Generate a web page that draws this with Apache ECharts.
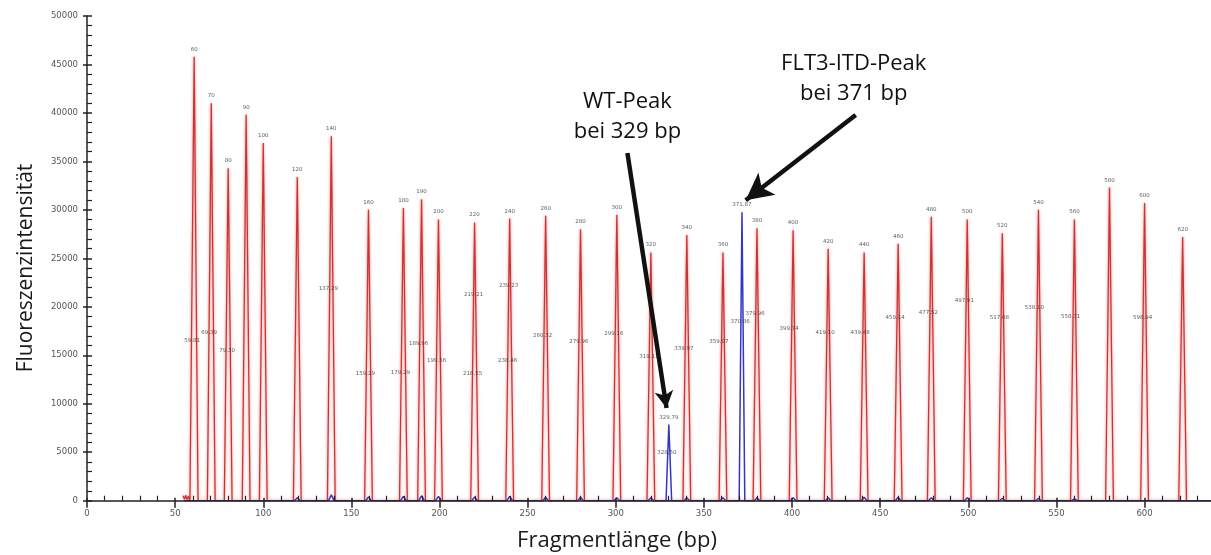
<!DOCTYPE html>
<html><head><meta charset="utf-8">
<script src="https://cdn.jsdelivr.net/npm/echarts@6/dist/echarts.min.js"></script>
<style>html,body{margin:0;padding:0;background:#fff}#c{width:1211px;height:555px}</style>
</head><body><div id="c"></div><script>
// Size standard (red) peaks: position (bp), height, nominal size label
const sizeStdX = [60.8,70.5,80.1,90.3,100,119.3,138.6,159.7,179.5,189.8,199.4,219.9,239.8,260.2,280,300.6,319.9,340.3,360.8,380.1,400.6,420.5,440.9,460.2,479,499.4,519.3,539.8,560.2,580.1,600,621.6];
const sizeStdY = [45800,41000,34300,39800,36900,33400,37600,30000,30200,31100,29000,28700,29100,29400,28000,29500,25600,27400,25600,28100,27900,26000,25600,26500,29300,29000,27600,30000,29000,32300,30700,27200];
const sizeStdLabel = ['60','70','80','90','100','120','140','160','180','190','200','220','240','260','280','300','320','340','360','380','400','420','440','460','480','500','520','540','560','580','600','620'];
// Start-of-trace noise of the red channel
const redNoiseX = [54.5,55.3,56.0,56.8,57.6,58.4];
const redNoiseY = [500,150,550,120,450,0];
// Sample (blue) channel: peaks and cross-talk bumps
const sampleX = [119.3,138.6,159.7,179.5,189.8,199.4,219.9,239.8,260.2,280,300.6,319.9,330.1,340.3,360.8,371.6,380.1,400.6,420.5,440.9,460.2,479,499.4,519.3,539.8,560.2];
const sampleY = [300,600,400,450,500,450,400,450,350,350,300,300,7850,300,300,29750,300,300,300,350,350,300,300,250,250,200];
const sampleLabel = ['','','','','','','','','','','','','329.79','','','371.87','','','','','','','','','',''];
// Called-size labels inside the peaks
const calledX = [59.7,69.3,79.5,137.0,158.0,177.8,188.1,198.3,219.3,218.8,239.2,238.6,258.5,279.0,298.9,318.8,338.6,358.5,370.5,379.0,398.3,418.8,438.6,458.5,477.3,497.7,517.6,537.5,558.0,598.9,329.0];
const calledY = [16500,17300,15500,21900,13100,13200,16200,14500,21300,13100,22200,14500,17000,16400,17200,14900,15700,16400,18500,19300,17800,17300,17300,18900,19400,20600,18900,19900,19000,18900,4950];
const calledText = ['59.81','69.39','79.30','137.29','159.29','179.29','189.96','199.56','219.21','218.55','239.23','238.46','260.32','279.96','299.16','319.11','339.97','359.07','370.86','379.96','399.74','419.10','439.48','459.14','477.52','497.91','517.68','538.10','558.71','598.94','328.50'];
// Annotations
const noteX = [306.6,435.0];
const noteY = [39580,43500];
const noteText = ['WT-Peak\nbei 329 bp','FLT3-ITD-Peak\nbei 371 bp'];
const arrowFromX = [306.6,436.1], arrowFromY = [35870,39790];
const arrowToX = [328.8,373.7], arrowToY = [9560,31000];
const arrowHead = [[14,17],[21,27]];

const HW_STD = 2.2, HW_SMP = 1.6;
const redData = redNoiseX.map((x,i)=>[x,redNoiseY[i]]);
sizeStdX.forEach((x,i)=>{ redData.push([x-HW_STD,0],[x,sizeStdY[i]],[x+HW_STD,0]); });
const blueData = [[55,0]];
sampleX.forEach((x,i)=>{ blueData.push([x-HW_SMP,0],[x,sampleY[i]],[x+HW_SMP,0]); });
blueData.push([638,0]);

const topLabels = sizeStdX.map((x,i)=>({value:[x,sizeStdY[i]],label:{formatter:sizeStdLabel[i]}}));
sampleX.forEach((x,i)=>{ if(sampleLabel[i]) topLabels.push({value:[x,sampleY[i]],label:{formatter:sampleLabel[i]}}); });
const calledData = calledX.map((x,i)=>({value:[x,calledY[i]],label:{formatter:calledText[i]}}));
const noteData = noteX.map((x,i)=>({value:[x,noteY[i]],label:{formatter:noteText[i]}}));
const arrowData = arrowFromX.map((x,i)=>[
  {coord:[x,arrowFromY[i]],symbol:'none'},
  {coord:[arrowToX[i],arrowToY[i]],symbol:'arrow',symbolSize:arrowHead[i]}
]);

const AX = '#222';
const tinyFont = {fontFamily:'DejaVu Sans',fontSize:5.5,color:'#333'};
const plain = v => String(v);
const chart = echarts.init(document.getElementById('c'),null,{renderer:'canvas'});
chart.setOption({
  animation:false,
  backgroundColor:'#fff',
  grid:{left:87,right:-21.7,top:16,bottom:54.3,containLabel:false,outerBoundsMode:'none'},
  xAxis:[
    {type:'value',min:0,max:650,interval:50,position:'bottom',z:10,
     axisLine:{lineStyle:{color:AX,width:1.6}},
     axisTick:{length:7,lineStyle:{color:AX,width:1.5}},
     axisLabel:{fontFamily:'DejaVu Sans',fontSize:8.5,color:'#555',margin:9,formatter:plain},
     splitLine:{show:false}},
    {type:'value',min:0,max:650,interval:50,position:'bottom',z:10,
     axisLine:{show:false},axisLabel:{show:false},
     axisTick:{inside:true,length:3,lineStyle:{color:AX,width:1.5}},
     minorTick:{show:true,splitNumber:5,length:5,lineStyle:{color:AX,width:1.2}},
     splitLine:{show:false}}
  ],
  yAxis:[
    {type:'value',min:0,max:50000,interval:5000,position:'left',z:10,
     axisLine:{show:true,lineStyle:{color:AX,width:1.5}},
     axisTick:{show:true,length:4,lineStyle:{color:AX,width:1.5}},
     axisLabel:{fontFamily:'DejaVu Sans',fontSize:8.5,color:'#555',margin:9,formatter:plain},
     splitLine:{show:false}},
    {type:'value',min:0,max:50000,interval:5000,position:'left',z:10,
     axisLine:{show:false},axisLabel:{show:false},
     axisTick:{show:true,inside:true,length:5,lineStyle:{color:AX,width:1.5}},
     minorTick:{show:true,splitNumber:5,length:5,lineStyle:{color:AX,width:1.2}},
     splitLine:{show:false}}
  ],
  graphic:[
    {type:'text',x:617,y:541,silent:true,style:{text:'Fragmentlänge (bp)',fontFamily:'Open Sans',fontSize:22,fill:'#1a1a1a',align:'center',verticalAlign:'middle'}},
    {type:'text',x:26,y:268,rotation:Math.PI/2,silent:true,style:{text:'Fluoreszenzintensität',fontFamily:'Open Sans',fontSize:21,fill:'#1a1a1a',align:'center',verticalAlign:'middle'}}
  ],
  series:[
    {name:'Größenstandard',type:'line',data:redData,showSymbol:false,
     lineStyle:{color:'#cc3434',width:1.3,shadowColor:'rgba(225,110,110,0.9)',shadowBlur:3},z:2},
    {name:'Probe',type:'line',data:blueData,showSymbol:false,
     lineStyle:{color:'#3434c8',width:1.5},z:3},
    {name:'Peaklabels',type:'scatter',data:topLabels,symbolSize:1,itemStyle:{color:'rgba(0,0,0,0)'},
     label:{show:true,position:'top',distance:4,...tinyFont},z:4},
    {name:'Größen',type:'scatter',data:calledData,symbolSize:1,itemStyle:{color:'rgba(0,0,0,0)'},
     label:{show:true,position:'inside',...tinyFont},z:4},
    {name:'Notizen',type:'scatter',data:noteData,symbolSize:1,itemStyle:{color:'#fff',opacity:1},
     label:{show:true,position:'inside',fontFamily:'Open Sans',fontSize:22,lineHeight:30,color:'#111',align:'center'},
     markLine:{silent:true,symbol:['none','arrow'],symbolSize:[16,22],
       lineStyle:{color:'#111',width:4.5,type:'solid'},label:{show:false},data:arrowData},z:5}
  ]
});
</script></body></html>
